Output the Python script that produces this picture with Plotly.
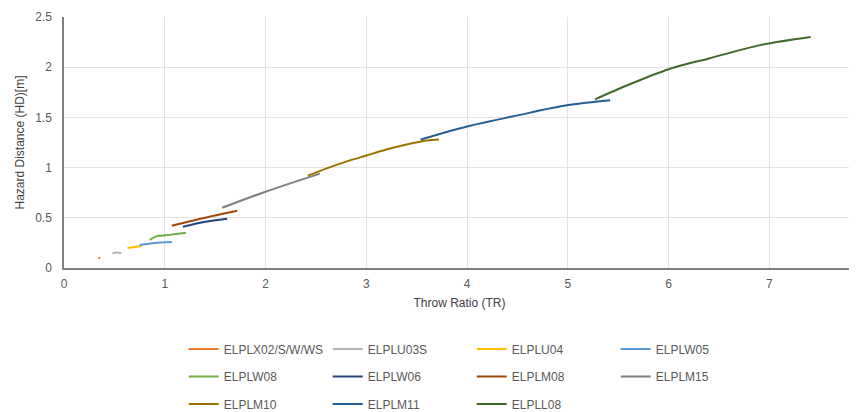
import plotly.graph_objects as go

# throw ratio (x) and hazard distance (y) per projector series
names = ["ELPLX02/S/W/WS", "ELPLU03S", "ELPLU04", "ELPLW05",
         "ELPLW08", "ELPLW06", "ELPLM08", "ELPLM15",
         "ELPLM10", "ELPLM11", "ELPLL08"]
colors = ["#ED7D31", "#B5B5B5", "#FFC000", "#5B9BD5",
          "#70AD47", "#264478", "#9E480E", "#7F7F7F",
          "#997300", "#255E91", "#43682B"]

x_plx02 = [0.34, 0.36]
y_plx02 = [0.10, 0.10]
x_plu03s = [0.48, 0.52, 0.57]
y_plu03s = [0.145, 0.155, 0.15]
x_plu04 = [0.63, 0.70, 0.77]
y_plu04 = [0.20, 0.21, 0.22]
x_plw05 = [0.75, 0.90, 1.07]
y_plw05 = [0.23, 0.25, 0.26]
x_plw08 = [0.85, 0.93, 1.05, 1.21]
y_plw08 = [0.28, 0.32, 0.33, 0.35]
x_plw06 = [1.18, 1.40, 1.62]
y_plw06 = [0.41, 0.46, 0.49]
x_plm08 = [1.07, 1.40, 1.72]
y_plm08 = [0.42, 0.50, 0.57]
x_plm15 = [1.57, 2.00, 2.54]
y_plm15 = [0.60, 0.76, 0.94]
x_plm10 = [2.42, 2.60, 2.80, 3.00, 3.20, 3.40, 3.60, 3.72]
y_plm10 = [0.92, 0.99, 1.06, 1.12, 1.18, 1.23, 1.27, 1.28]
x_plm11 = [3.54, 4.00, 4.50, 4.99, 5.42]
y_plm11 = [1.28, 1.41, 1.52, 1.62, 1.67]
x_pll08 = [5.27, 5.59, 6.00, 6.41, 6.91, 7.41]
y_pll08 = [1.68, 1.82, 1.98, 2.09, 2.22, 2.30]

xs = [x_plx02, x_plu03s, x_plu04, x_plw05, x_plw08, x_plw06,
      x_plm08, x_plm15, x_plm10, x_plm11, x_pll08]
ys = [y_plx02, y_plu03s, y_plu04, y_plw05, y_plw08, y_plw06,
      y_plm08, y_plm15, y_plm10, y_plm11, y_pll08]

fig = go.Figure()
for i in range(len(names)):
    fig.add_trace(
        go.Scatter(
            x=xs[i],
            y=ys[i],
            name=names[i],
            mode="lines",
            line=dict(color=colors[i], width=2, shape="spline", smoothing=0.8),
            legend=["legend", "legend2", "legend3"][i // 4],
        )
    )

font_col = "#595959"
leg = dict(
    orientation="h",
    xref="container",
    yref="container",
    x=0.207,
    xanchor="left",
    yanchor="middle",
    entrywidth=99,
    entrywidthmode="pixels",
    font=dict(size=12, color=font_col),
    bgcolor="rgba(0,0,0,0)",
    itemwidth=30,
    tracegroupgap=0,
)

# page body adds an 8px offset, so the figure is 8px smaller than the window
fig.update_layout(
    width=849,
    height=404,
    margin=dict(l=56, r=2, t=9, b=144),
    plot_bgcolor="white",
    paper_bgcolor="white",
    font=dict(family="Liberation Sans, Arial", size=11, color=font_col),
    legend=dict(leg, y=0.156),
    legend2=dict(leg, y=0.088),
    legend3=dict(leg, y=0.020),
    xaxis=dict(
        title=dict(text="Throw Ratio (TR)", font=dict(size=12, color="#404040"), standoff=8),
        range=[0, 7.85],
        dtick=1,
        showgrid=True,
        gridcolor="#E3E3E3",
        showline=True,
        linecolor="#808080",
        linewidth=1.5,
        ticks="",
        ticklabelstandoff=4,
        zeroline=False,
        automargin=False,
        tickfont=dict(size=12, color=font_col),
    ),
    yaxis=dict(
        title=dict(text="Hazard Distance (HD)[m]", font=dict(size=12, color="#404040"), standoff=8),
        range=[0, 2.5],
        dtick=0.5,
        showgrid=True,
        gridcolor="#E3E3E3",
        showline=True,
        linecolor="#808080",
        linewidth=1.5,
        ticks="",
        ticklabelstandoff=8,
        zeroline=False,
        automargin=False,
        tickfont=dict(size=12, color=font_col),
    ),
)

fig.write_html("out.html")
